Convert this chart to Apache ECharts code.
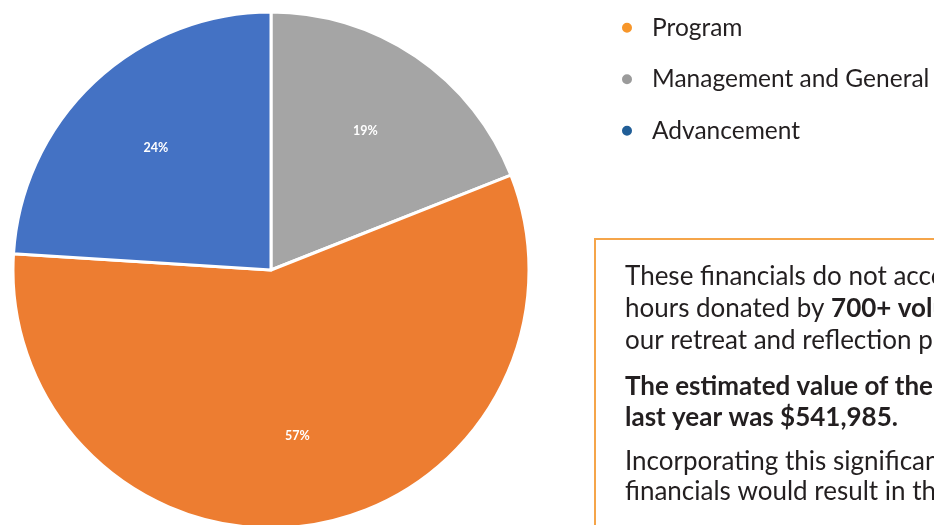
<!DOCTYPE html>
<html>
<head>
<meta charset="utf-8">
<script src="https://cdn.jsdelivr.net/npm/echarts@6/dist/echarts.min.js"></script>
<style>
html, body { margin: 0; padding: 0; background: #fff; }
#chart { width: 934px; height: 525px; }
</style>
</head>
<body>
<div id="chart"></div>
<script>
// slice order clockwise from 12 o'clock
const sliceNames = ["Management and General", "Program", "Advancement"];
const sliceValues = [19, 57, 24];
const sliceColors = ["#a5a5a5", "#ed7d31", "#4472c4"];

// legend order and dot colours
const legendNames = ["Program", "Management and General", "Advancement"];
const legendColors = ["#f7962a", "#9b9b9b", "#215e97"];

const chart = echarts.init(document.getElementById("chart"));

chart.setOption({
    animation: false,
    legend: {
        orient: "vertical",
        left: 615,
        top: 8,
        icon: "circle",
        itemWidth: 12,
        itemHeight: 12,
        itemGap: 22,
        textStyle: {
            fontFamily: "Lato",
            fontSize: 24.5,
            color: "#231f20",
            lineHeight: 29.5,
            padding: [0, 0, 0, 14]
        },
        data: legendNames.map((n, i) => ({
            name: n,
            itemStyle: { color: legendColors[i] }
        }))
    },
    graphic: [
        {
            type: "rect",
            shape: { x: 595, y: 239, width: 400, height: 320 },
            style: { fill: "#fff", stroke: "#f5a54a", lineWidth: 2 }
        },
        {
            type: "text",
            x: 625,
            y: 261,
            style: {
                text: "These financials do not account for the\n" +
                    "hours donated by {b|700+ volunteers} who make\n" +
                    "our retreat and reflection programs possible.",
                font: "26px Lato",
                fill: "#231f20",
                lineHeight: 32,
                rich: { b: { fontWeight: "bold", fontFamily: "Lato", fontSize: 26, lineHeight: 32 } }
            }
        },
        {
            type: "text",
            x: 625,
            y: 371,
            style: {
                text: "The estimated value of their time\nlast year was $541,985.",
                font: "bold 26px Lato",
                fill: "#231f20",
                lineHeight: 31
            }
        },
        {
            type: "text",
            x: 625,
            y: 447,
            style: {
                text: "Incorporating this significant contribution into our\n" +
                    "financials would result in their true value.",
                font: "26px Lato",
                fill: "#231f20",
                lineHeight: 30
            }
        }
    ],
    series: [
        {
            type: "pie",
            center: [271, 270],
            radius: [0, 258],
            startAngle: 90,
            clockwise: true,
            silent: true,
            label: { show: false },
            labelLine: { show: false },
            itemStyle: { borderColor: "#fff", borderWidth: 3 },
            data: sliceNames.map((n, i) => ({
                name: n,
                value: sliceValues[i],
                itemStyle: { color: sliceColors[i] }
            }))
        },
        {
            // transparent ring only used to place the percentage labels
            type: "pie",
            center: [271, 270],
            radius: [0, 330],
            startAngle: 90,
            clockwise: true,
            silent: true,
            z: 5,
            label: {
                show: true,
                position: "inside",
                formatter: "{c}%",
                color: "#fff",
                fontFamily: "Lato",
                fontSize: 12.5,
                fontWeight: "bold"
            },
            labelLine: { show: false },
            itemStyle: { color: "transparent", borderWidth: 0 },
            data: sliceNames.map((n, i) => ({ name: n, value: sliceValues[i] }))
        }
    ]
});
</script>
</body>
</html>
